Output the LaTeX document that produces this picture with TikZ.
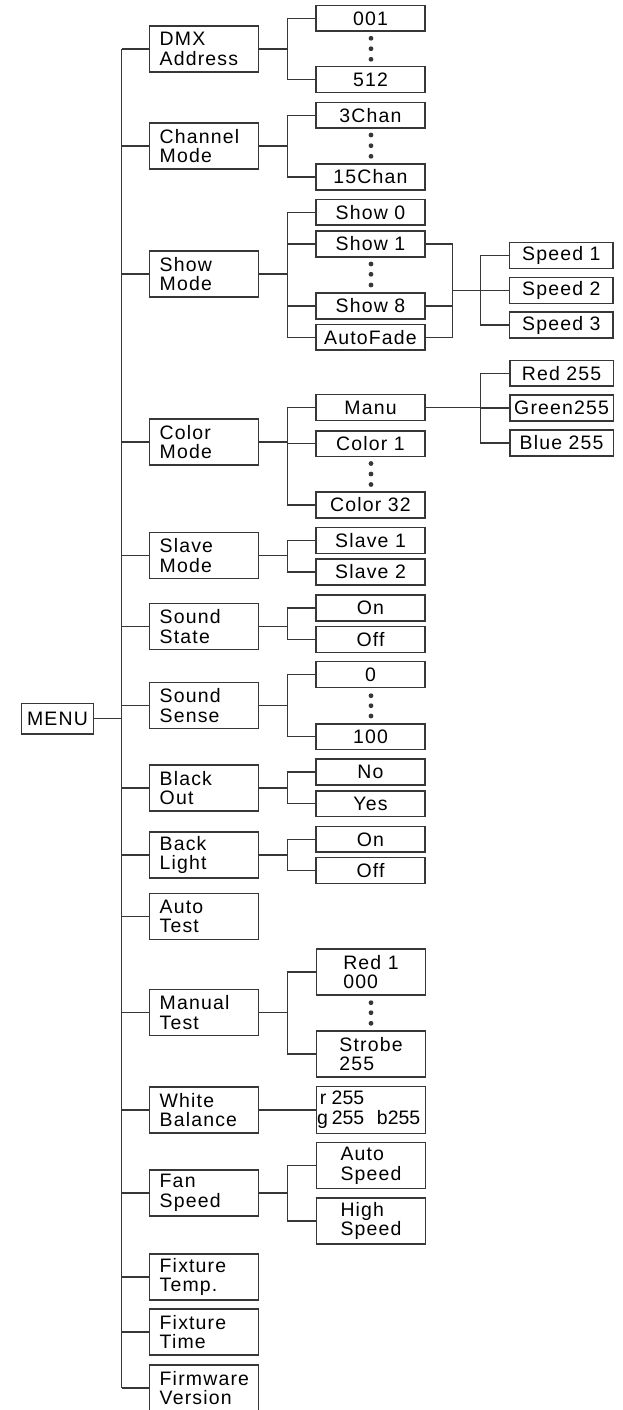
\documentclass[tikz,border=0pt]{standalone}
\usepackage{fontspec}
\setmainfont{Liberation Sans}[LetterSpace=6]
\newfontfamily\wbfont{Liberation Sans}
\usetikzlibrary{calc}
\definecolor{ln}{RGB}{55,55,55}
\begin{document}
\begin{tikzpicture}[x=0.75pt,y=-0.75pt,
  every node/.style={font=\fontsize{14.6pt}{14.8pt}\selectfont, text=black},
  bx/.style={draw=ln, line width=1.15pt, rectangle, inner sep=0pt},
  lone/.style={bx, minimum width=81.75pt, minimum height=34.5pt, text width=66.75pt, inner xsep=7.5pt, align=left},
  ltwo/.style={bx, minimum width=81.75pt, minimum height=19.2pt, align=center},
  ltwoB/.style={bx, minimum width=81.75pt, minimum height=34.5pt, align=left},
  lthree/.style={bx, minimum width=77.6pt, minimum height=19.2pt, align=center},
  cn/.style={draw=ln, line width=0.95pt},
  dot/.style={circle, fill=ln, inner sep=0pt, minimum size=3.6pt}
]
\useasboundingbox (0,0) rectangle (622,1410);
\coordinate (tr) at (121.7,0);
\coordinate (br) at (287.5,0);
\coordinate (bs) at (452.3,0);
\coordinate (bt) at (480.7,0);

\node[bx, minimum width=53.7pt, minimum height=23pt] (menu) at (57.5,718.7) {MENU};

% level 1
\node[lone] (dmx) at (204.2,49) {DMX\\Address};
\node[lone] (chan) at (204.2,146) {Channel\\Mode};
\node[lone] (show) at (204.2,274) {Show\\Mode};
\node[lone] (color) at (204.2,442) {Color\\Mode};
\node[lone] (slave) at (204.2,555.5) {Slave\\Mode};
\node[lone] (sstate) at (204.2,626.5) {Sound\\State};
\node[lone] (ssense) at (204.2,705.7) {Sound\\Sense};
\node[lone] (black) at (204.2,788) {Black\\Out};
\node[lone] (back) at (204.2,855) {Back\\Light};
\node[lone] (atest) at (204.2,916.3) {Auto\\Test};
\node[lone] (mtest) at (204.2,1012.5) {Manual\\Test};
\node[lone] (white) at (204.2,1110) {White\\Balance};
\node[lone] (fan) at (204.2,1193) {Fan\\Speed};
\node[lone] (ftemp) at (204.2,1277) {Fixture\\Temp.};
\node[lone] (ftime) at (204.2,1332) {Fixture\\Time};
\node[lone] (firm) at (204.2,1388) {Firmware\\Version};

% level 2
\node[ltwo] (d001) at (370.5,18.3) {001};
\node[ltwo] (d512) at (370.5,79.5) {512};
\node[ltwo] (c3) at (370.5,115.3) {3Chan};
\node[ltwo] (c15) at (370.5,177) {15Chan};
\node[ltwo] (s0) at (370.5,212.3) {Show 0};
\node[ltwo] (s1) at (370.5,244) {Show 1};
\node[ltwo] (s8) at (370.5,306) {Show 8};
\node[ltwo] (af) at (370.5,337.3) {AutoFade};
\node[ltwo] (manu) at (370.5,407.5) {Manu};
\node[ltwo] (col1) at (370.5,443.7) {Color 1};
\node[ltwo] (col32) at (370.5,505) {Color 32};
\node[ltwo] (sl1) at (370.5,540.5) {Slave 1};
\node[ltwo] (sl2) at (370.5,572) {Slave 2};
\node[ltwo] (son) at (370.5,608) {On};
\node[ltwo] (soff) at (370.5,639.5) {Off};
\node[ltwo] (sn0) at (370.5,674.5) {0};
\node[ltwo] (sn100) at (370.5,736.7) {100};
\node[ltwo] (bno) at (370.5,772) {No};
\node[ltwo] (byes) at (370.5,803.7) {Yes};
\node[ltwo] (lon) at (370.5,839.3) {On};
\node[ltwo] (loff) at (370.5,870.5) {Off};
\node[ltwoB] (red1) at (371,972) {Red 1\\000};
\node[ltwoB] (strobe) at (371,1054) {Strobe\\255};
\node[bx, minimum width=81.75pt, minimum height=35pt, text width=81pt, inner xsep=0.4pt, align=left, font=\wbfont\fontsize{14.6pt}{14.8pt}\selectfont] (wb) at (371,1110) {\mbox{\hspace*{2.2pt}r\hspace{4pt}255}\\\mbox{g\hspace{3pt}255\hspace{9.5pt}b255}};
\node[ltwoB] (aspd) at (371,1165.7) {Auto\\Speed};
\node[ltwoB] (hspd) at (371,1221) {High\\Speed};

% level 3
\node[lthree] (sp1) at (561.3,255.5) {Speed 1};
\node[lthree] (sp2) at (561.3,290.5) {Speed 2};
\node[lthree] (sp3) at (561.3,325) {Speed 3};
\node[lthree] (red) at (561.6,373.3) {Red 255};
\node[lthree] (green) at (561.6,408) {Green255};
\node[lthree] (blue) at (561.6,443) {Blue 255};

% dots
\foreach \y [count=\i] in {38.3,48.7,59.3} \node[dot] (da\i) at (371,\y) {};
\foreach \y [count=\i] in {135,145.7,156.3} \node[dot] (db\i) at (371,\y) {};
\foreach \y [count=\i] in {264,274.3,285} \node[dot] (dc\i) at (371,\y) {};
\foreach \y [count=\i] in {463.5,474,484.5} \node[dot] (dd\i) at (371,\y) {};
\foreach \y [count=\i] in {695.7,705.7,716} \node[dot] (de\i) at (371,\y) {};
\foreach \y [count=\i] in {1002.7,1012.7,1023.3} \node[dot] (df\i) at (371,\y) {};

% trunk
\draw[cn] (menu.east) -- (tr |- menu.east);
\draw[cn] (tr |- dmx.west) -- (tr |- firm.west);
\foreach \n in {dmx,chan,show,color,slave,sstate,ssense,black,back,atest,mtest,white,fan,ftemp,ftime,firm}
  \draw[cn] (\n.west) -- (tr |- \n.west);

% level-1 to level-2 forks
\newcommand\fork[3]{%
  \draw[cn] (#1.east) -- (br |- #1.east);
  \draw[cn] (#2.west) -- (br |- #2.west) -- (br |- #3.west) -- (#3.west);}
\fork{dmx}{d001}{d512}
\fork{chan}{c3}{c15}
\fork{show}{s0}{af}
\draw[cn] (s1.west) -- (br |- s1.west);
\draw[cn] (s8.west) -- (br |- s8.west);
\fork{color}{manu}{col32}
\draw[cn] (col1.west) -- (br |- col1.west);
\fork{slave}{sl1}{sl2}
\fork{sstate}{son}{soff}
\fork{ssense}{sn0}{sn100}
\fork{black}{bno}{byes}
\fork{back}{lon}{loff}
\fork{mtest}{red1}{strobe}
\draw[cn] (white.east) -- (wb.west);
\fork{fan}{aspd}{hspd}

% show to speed
\draw[cn] (s1.east) -- (bs |- s1.east) -- (bs |- af.east) -- (af.east);
\draw[cn] (s8.east) -- (bs |- s8.east);
\draw[cn] (bs |- sp2.west) -- (sp2.west);
\draw[cn] (sp1.west) -- (bt |- sp1.west) -- (bt |- sp3.west) -- (sp3.west);

% manu to rgb
\draw[cn] (manu.east) -- (bt |- manu.east);
\draw[cn] (red.west) -- (bt |- red.west) -- (bt |- blue.west) -- (blue.west);
\draw[cn] (green.west) -- (bt |- green.west);
\end{tikzpicture}
\end{document}
